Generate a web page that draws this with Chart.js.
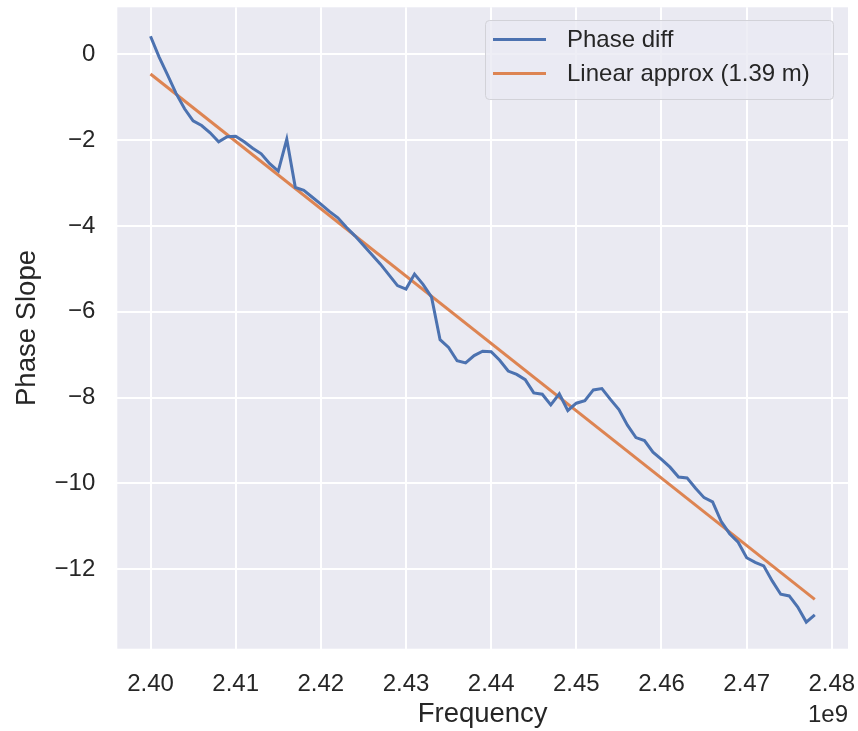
<!DOCTYPE html>
<html><head><meta charset="utf-8">
<script src="https://cdn.jsdelivr.net/npm/chart.js@4.4.1/dist/chart.umd.min.js"></script>
<style>html,body{margin:0;padding:0;background:#fff;}#wrap{width:858px;height:731px;position:relative;}</style>
</head><body><div id="wrap"><canvas id="c" width="858" height="731"></canvas></div>
<script>
const freqMHz = [2400,2401,2402,2403,2404,2405,2406,2407,2408,2409,
  2410,2411,2412,2413,2414,2415,2416,2417,2418,2419,
  2420,2421,2422,2423,2424,2425,2426,2427,2428,2429,
  2430,2431,2432,2433,2434,2435,2436,2437,2438,2439,
  2440,2441,2442,2443,2444,2445,2446,2447,2448,2449,
  2450,2451,2452,2453,2454,2455,2456,2457,2458,2459,
  2460,2461,2462,2463,2464,2465,2466,2467,2468,2469,
  2470,2471,2472,2473,2474,2475,2476,2477,2478];
const phaseDiff = [0.42,-0.06,-0.48,-0.91,-1.27,-1.55,-1.66,-1.83,-2.04,-1.92,
  -1.91,-2.04,-2.19,-2.32,-2.55,-2.72,-1.98,-3.10,-3.17,-3.33,
  -3.49,-3.66,-3.81,-4.03,-4.23,-4.45,-4.67,-4.89,-5.14,-5.39,
  -5.47,-5.12,-5.36,-5.66,-6.65,-6.83,-7.14,-7.19,-7.02,-6.92,
  -6.93,-7.13,-7.38,-7.46,-7.58,-7.89,-7.92,-8.17,-7.91,-8.30,
  -8.13,-8.07,-7.82,-7.79,-8.04,-8.28,-8.64,-8.93,-9.00,-9.27,
  -9.44,-9.62,-9.85,-9.87,-10.11,-10.33,-10.43,-10.88,-11.17,-11.37,
  -11.73,-11.84,-11.92,-12.27,-12.58,-12.62,-12.88,-13.23,-13.06];
const fitFreqMHz = [2400, 2478];
const fitPhase = [-0.46, -12.70];
const xTickValues = [2400,2410,2420,2430,2440,2450,2460,2470,2480];
const yTickValues = [0,-2,-4,-6,-8,-10,-12];
const seriesLabels = ['Phase diff', 'Linear approx (1.39 m)'];
const seriesColors = ['#4C72B0', '#DD8452'];
const xTitle = 'Frequency';
const yTitle = 'Phase Slope';
const xOffsetText = '1e9';

const FONT = '"Liberation Sans", Arial, Helvetica, sans-serif';
const TXT = '#262626';

const bgPlugin = {
  id: 'bg',
  beforeDraw(chart) {
    const a = chart.chartArea, ctx = chart.ctx;
    ctx.save();
    ctx.fillStyle = '#EAEAF2';
    ctx.fillRect(a.left, a.top, a.right - a.left, a.bottom - a.top);
    ctx.restore();
  }
};

const extrasPlugin = {
  id: 'extras',
  afterDraw(chart) {
    const ctx = chart.ctx, a = chart.chartArea;
    ctx.save();
    ctx.font = '24px ' + FONT;
    ctx.fillStyle = TXT;
    ctx.textAlign = 'right';
    ctx.textBaseline = 'middle';
    ctx.fillText(xOffsetText, a.right, 715);
    const bx = 485.5, by = 20.5, bw = 348, bh = 79, r = 4;
    ctx.beginPath();
    ctx.moveTo(bx + r, by);
    ctx.lineTo(bx + bw - r, by);
    ctx.arcTo(bx + bw, by, bx + bw, by + r, r);
    ctx.lineTo(bx + bw, by + bh - r);
    ctx.arcTo(bx + bw, by + bh, bx + bw - r, by + bh, r);
    ctx.lineTo(bx + r, by + bh);
    ctx.arcTo(bx, by + bh, bx, by + bh - r, r);
    ctx.lineTo(bx, by + r);
    ctx.arcTo(bx, by, bx + r, by, r);
    ctx.closePath();
    ctx.fillStyle = 'rgba(234,234,242,0.8)';
    ctx.fill();
    ctx.strokeStyle = '#D2D2D8';
    ctx.lineWidth = 1;
    ctx.stroke();
    chart.data.datasets.forEach((ds, i) => {
      const yy = 39.5 + i * 34;
      ctx.beginPath();
      ctx.moveTo(493, yy);
      ctx.lineTo(546, yy);
      ctx.strokeStyle = ds.borderColor;
      ctx.lineWidth = 3;
      ctx.lineCap = 'butt';
      ctx.stroke();
      ctx.font = '24px ' + FONT;
      ctx.fillStyle = TXT;
      ctx.textAlign = 'left';
      ctx.textBaseline = 'middle';
      ctx.fillText(ds.label, 567, yy + 1);
    });
    ctx.restore();
  }
};

const ctx = document.getElementById('c').getContext('2d');
new Chart(ctx, {
  type: 'line',
  data: {
    datasets: [
      {
        label: seriesLabels[0],
        data: freqMHz.map((f, i) => ({ x: f, y: phaseDiff[i] })),
        borderColor: seriesColors[0],
        borderWidth: 3,
        pointRadius: 0,
        tension: 0,
        fill: false
      },
      {
        label: seriesLabels[1],
        data: fitFreqMHz.map((f, i) => ({ x: f, y: fitPhase[i] })),
        borderColor: seriesColors[1],
        borderWidth: 3,
        pointRadius: 0,
        tension: 0,
        fill: false
      }
    ]
  },
  options: {
    responsive: false,
    animation: false,
    devicePixelRatio: 1,
    layout: { padding: { top: 7.3, right: 10, left: 0, bottom: 0 } },
    plugins: { legend: { display: false }, tooltip: { enabled: false } },
    scales: {
      x: {
        type: 'linear',
        min: 2396.1,
        max: 2481.9,
        afterBuildTicks: s => { s.ticks = xTickValues.map(v => ({ value: v })); },
        afterFit: s => { s.height = 82.3; s.paddingLeft = 0; s.paddingRight = 0; },
        ticks: {
          callback: v => (v / 1000).toFixed(2),
          font: { family: FONT, size: 24 },
          color: TXT,
          padding: 21,
          maxRotation: 0,
          autoSkip: false
        },
        grid: { color: '#FFFFFF', lineWidth: 2, drawTicks: false },
        border: { display: false },
        title: {
          display: true,
          text: xTitle,
          font: { family: FONT, size: 27.5 },
          color: TXT,
          padding: { top: 0, bottom: 0 }
        }
      },
      y: {
        type: 'linear',
        min: -13.85,
        max: 1.095,
        afterBuildTicks: s => { s.ticks = yTickValues.map(v => ({ value: v })); },
        afterFit: s => { s.width = 117.3; s.paddingTop = 0; s.paddingBottom = 0; },
        ticks: {
          callback: v => (v < 0 ? '\u2212' + Math.abs(v) : String(v)),
          font: { family: FONT, size: 24 },
          color: TXT,
          padding: 22
        },
        grid: { color: '#FFFFFF', lineWidth: 2, drawTicks: false },
        border: { display: false },
        title: {
          display: true,
          text: yTitle,
          font: { family: FONT, size: 27.5 },
          color: TXT,
          padding: { top: 11, bottom: 0 }
        }
      }
    }
  },
  plugins: [bgPlugin, extrasPlugin]
});
</script>
</body></html>
